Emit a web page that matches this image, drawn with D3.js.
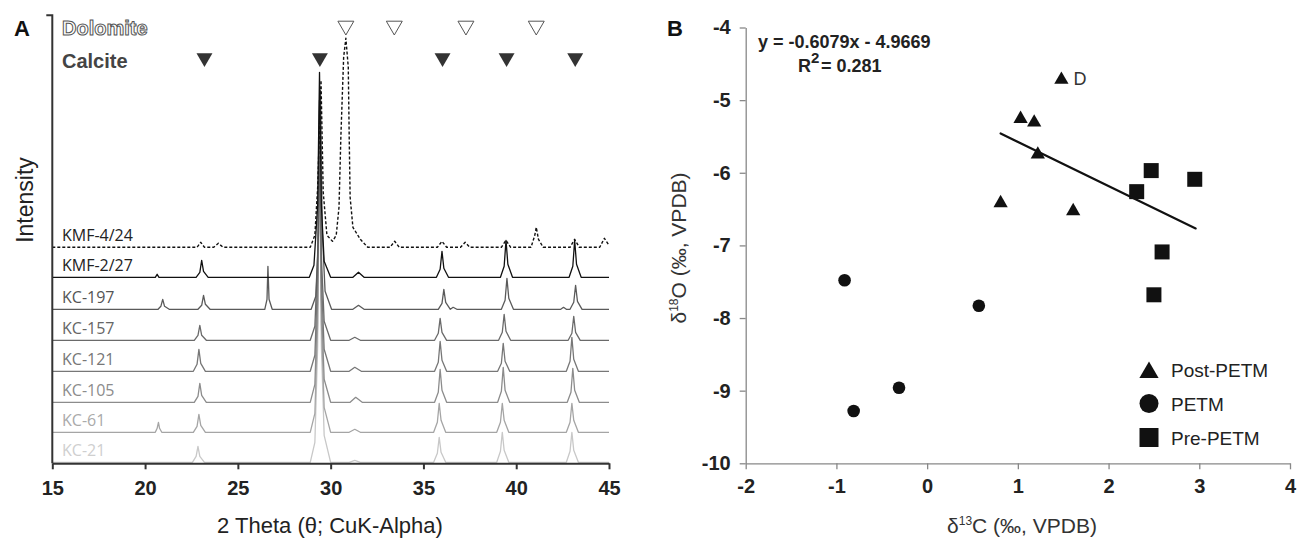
<!DOCTYPE html>
<html>
<head>
<meta charset="utf-8">
<script src="https://cdn.jsdelivr.net/npm/d3@7"></script>
<style>
  body { margin: 0; background: #fff; }
  svg { display: block; }
  text { font-family: "Liberation Sans", Arial, sans-serif; }
</style>
</head>
<body>
<svg id="fig" width="1299" height="538"></svg>
<script>
// ---- panel A : XRD traces (2theta, counts above own baseline) ----
const sampleNames = ["KC-21", "KC-61", "KC-105", "KC-121", "KC-157", "KC-197", "KMF-2/27", "KMF-4/24"];
const sampleOffsets = [1, 31, 61, 92, 123, 154, 186, 216];
const sampleColors = ["#c8c8c8", "#a5a5a5", "#8c8c8c", "#777", "#6a6a6a", "#5a5a5a", "#111", "#111"];
const labelColors = ["#cfcfcf", "#aaa", "#8c8c8c", "#777", "#666", "#555", "#222", "#222"];

const kc21 = [[15,0],[22.55,0],[22.75,6],[22.85,16],[22.95,6],[23.2,0],
  [28.9,0],[29.15,20],[29.3,116],[29.4,332],[29.5,116],[29.65,27],[30.0,0],
  [31.0,0],[31.3,2],[31.6,0],
  [35.55,0],[35.75,9],[35.85,25],[35.95,10],[36.2,0],
  [38.95,0],[39.15,11],[39.25,30],[39.35,12],[39.6,0],
  [42.7,0],[42.9,11],[43.0,30],[43.1,12],[43.35,0],[45,0]];
const kc61 = [[15,0],[20.55,0],[20.65,4],[20.72,10],[20.78,4],[20.9,0],
  [22.6,0],[22.8,6],[22.9,18],[23.0,7],[23.25,0],
  [28.9,0],[29.15,19],[29.3,109],[29.4,312],[29.5,109],[29.65,25],[30.0,0],
  [31.0,0],[31.3,3],[31.6,0],
  [35.55,0],[35.75,10],[35.85,29],[35.95,12],[36.2,0],
  [38.95,0],[39.15,10],[39.25,29],[39.35,12],[39.6,0],
  [42.7,0],[42.9,10],[43.0,29],[43.1,12],[43.35,0],[45,0]];
const kc105 = [[15,0],[22.65,0],[22.85,6],[22.95,19],[23.05,7],[23.3,0],
  [28.9,0],[29.15,18],[29.3,102],[29.4,292],[29.5,102],[29.65,23],[30.0,0],
  [31.05,0],[31.35,5],[31.7,0],
  [35.6,0],[35.8,10],[35.9,33],[36.0,12],[36.25,0],
  [39.0,0],[39.2,11],[39.3,35],[39.4,12],[39.65,0],
  [42.75,0],[42.95,10],[43.05,34],[43.15,12],[43.4,0],[45,0]];
const kc121 = [[15,0],[22.6,0],[22.8,7],[22.9,22],[23.0,8],[23.25,0],
  [28.9,0],[29.15,16],[29.3,95],[29.4,271],[29.5,95],[29.65,22],[30.0,0],
  [31.0,0],[31.3,4],[31.65,0],
  [35.6,0],[35.8,9],[35.9,30],[36.0,11],[36.25,0],
  [39.0,0],[39.2,8],[39.3,28],[39.4,10],[39.65,0],
  [42.7,0],[42.9,10],[43.0,34],[43.1,12],[43.35,0],[45,0]];
const kc157 = [[15,0],[22.65,0],[22.85,5],[22.95,15],[23.05,5],[23.3,0],
  [28.9,0],[29.15,14],[29.3,84],[29.4,240],[29.5,84],[29.65,19],[30.0,0],
  [31.0,0],[31.3,3],[31.6,0],
  [35.6,0],[35.8,7],[35.9,22],[36.0,8],[36.25,0],
  [39.05,0],[39.25,8],[39.35,26],[39.45,9],[39.7,0],
  [42.8,0],[43.0,7],[43.1,24],[43.2,8],[43.45,0],[45,0]];
const kc197 = [[15,0],[20.7,0],[20.85,3],[20.95,10],[21.05,3],[21.3,0],
  [22.85,0],[23.05,4],[23.15,14],[23.25,5],[23.5,0],
  [26.45,0],[26.57,10],[26.62,43],[26.68,10],[26.85,0],
  [28.95,0],[29.2,13],[29.35,77],[29.45,219],[29.55,77],[29.7,18],[30.05,0],
  [31.2,0],[31.5,4],[31.8,0],
  [35.8,0],[36.0,6],[36.1,20],[36.2,7],[36.45,0],[36.6,2],[36.8,0],
  [39.2,0],[39.4,9],[39.5,31],[39.6,11],[39.85,0],
  [42.4,0],[42.55,2],[42.7,0],
  [42.9,0],[43.1,7],[43.2,24],[43.3,8],[43.55,0],[45,0]];
const kmf227 = [[15,0],[20.55,0],[20.65,3],[20.75,0],
  [22.75,0],[22.95,5],[23.05,17],[23.15,6],[23.4,0],
  [28.85,0],[29.1,12],[29.3,72],[29.4,205],[29.5,72],[29.65,16],[30.0,0],
  [31.2,0],[31.5,5],[31.8,0],
  [35.7,0],[35.9,8],[36.0,26],[36.1,9],[36.35,0],
  [39.15,0],[39.35,11],[39.45,37],[39.55,13],[39.8,0],
  [42.85,0],[43.05,11],[43.15,37],[43.25,13],[43.5,0],[45,0]];
const kmf424 = [[15,0],[22.8,0],[23.0,5],[23.2,0],[23.7,0],[23.95,4],[24.2,0],
  [28.9,0],[29.15,12],[29.3,60],[29.48,167],[29.6,55],[29.8,12],[30.1,6],
  [30.3,12],[30.45,40],[30.55,110],[30.7,190],[30.82,209],[30.95,180],[31.0,110],[31.05,50],[31.2,20],[31.6,8],[32.0,0],
  [33.2,0],[33.45,6],[33.7,0],
  [35.75,0],[36.0,6],[36.25,0],
  [37.0,0],[37.25,5],[37.5,0],
  [39.2,0],[39.45,7],[39.7,0],
  [40.8,0],[41.0,12],[41.08,20],[41.2,8],[41.45,0],
  [42.9,0],[43.15,8],[43.4,0],
  [44.5,0],[44.75,9],[45,2]];
const traces = [kc21, kc61, kc105, kc121, kc157, kc197, kmf227, kmf424];

const calcitePeaks = [23.2, 29.42, 36.03, 39.48, 43.18];
const dolomitePeaks = [30.82, 33.43, 37.29, 41.08];
const thetaTicks = [15, 20, 25, 30, 35, 40, 45];

// ---- panel B : stable isotopes ----
const postPetm = [[1.48, -4.69], [1.03, -5.23], [1.18, -5.28], [1.22, -5.72], [0.81, -6.39], [1.61, -6.50]];
const petm = [[-0.91, -7.48], [-0.81, -9.28], [-0.31, -8.96], [0.57, -7.83]];
const prePetm = [[2.47, -5.97], [2.95, -6.09], [2.31, -6.26], [2.59, -7.09], [2.50, -7.68]];
const fitSlope = -0.6079, fitIntercept = -4.9669, fitRange = [0.81, 2.96];
const c13Ticks = [-2, -1, 0, 1, 2, 3, 4];
const o18Ticks = [-10, -9, -8, -7, -6, -5, -4];
const legendItems = ["Post-PETM", "PETM", "Pre-PETM"];

const svg = d3.select("#fig");
const plain = d => String(d);

// ================= A =================
const xA = d3.scaleLinear().domain([15, 45]).range([52.3, 609]);
const yA = d3.scaleLinear().domain([0, 450]).range([463.3, 13.3]);

const gA = svg.append("g");

const traceLine = off => d3.line()
    .x(d => xA(d[0]))
    .y(d => yA(d[1] + off));

gA.selectAll("path.trace")
    .data(traces)
    .join("path")
    .attr("class", "trace")
    .attr("d", (d, i) => traceLine(sampleOffsets[i])(d))
    .attr("fill", "none")
    .attr("stroke", (d, i) => sampleColors[i])
    .attr("stroke-width", (d, i) => i === 7 ? 1.4 : 1.3)
    .attr("stroke-dasharray", (d, i) => i === 7 ? "3,2" : null)
    .attr("stroke-linejoin", "round");

gA.selectAll("text.sample")
    .data(sampleNames)
    .join("text")
    .attr("class", "sample")
    .attr("x", 62)
    .attr("y", (d, i) => yA(sampleOffsets[i]) - 6)
    .attr("fill", (d, i) => labelColors[i])
    .style("font-family", "'Open Sans', sans-serif")
    .style("font-size", "16px")
    .text(d => d);

// x axis
const axA = gA.append("g")
    .attr("transform", `translate(0,${yA(0)})`)
    .call(d3.axisBottom(xA).tickValues(thetaTicks).tickFormat(plain).tickSize(6).tickSizeOuter(0).tickPadding(12));
axA.select(".domain").attr("stroke", "#333").attr("stroke-width", 2);
axA.selectAll(".tick line").attr("stroke", "#333").attr("stroke-width", 2);
axA.selectAll(".tick text")
    .attr("fill", "#222")
    .style("font-family", "'Liberation Sans', Arial, sans-serif")
    .style("font-size", "20px")
    .style("font-weight", "bold");

// y axis (no ticks, bracket at top)
gA.append("path")
    .attr("d", `M${xA(15) - 6},${yA(448)}H${xA(15)}V${yA(0)}`)
    .attr("fill", "none")
    .attr("stroke", "#333")
    .attr("stroke-width", 2);

const triDown = d3.symbol().type(d3.symbolTriangle).size(110);
gA.selectAll("path.calc")
    .data(calcitePeaks)
    .join("path")
    .attr("class", "calc")
    .attr("d", triDown)
    .attr("transform", d => `translate(${xA(d)},57.8) rotate(180)`)
    .attr("fill", "#333");
gA.selectAll("path.dolo")
    .data(dolomitePeaks)
    .join("path")
    .attr("class", "dolo")
    .attr("d", triDown)
    .attr("transform", d => `translate(${xA(d)},25.8) rotate(180)`)
    .attr("fill", "#fff")
    .attr("stroke", "#555")
    .attr("stroke-width", 1);

gA.append("text").attr("x", 62).attr("y", 34.5)
    .style("font-size", "20px").style("font-weight", "bold")
    .attr("fill", "#fff").attr("stroke", "#555").attr("stroke-width", 1)
    .text("Dolomite");
gA.append("text").attr("x", 62).attr("y", 67.5)
    .style("font-size", "20px").style("font-weight", "bold")
    .attr("fill", "#444")
    .text("Calcite");
gA.append("text").attr("x", 14).attr("y", 36)
    .style("font-size", "22px").style("font-weight", "bold")
    .attr("fill", "#111")
    .text("A");

gA.append("text")
    .attr("transform", "translate(33,200) rotate(-90)")
    .attr("text-anchor", "middle")
    .style("font-size", "23px")
    .attr("fill", "#222")
    .text("Intensity");
gA.append("text")
    .attr("x", 330).attr("y", 533)
    .attr("text-anchor", "middle")
    .style("font-size", "22px")
    .attr("fill", "#222")
    .text("2 Theta (\u03b8; CuK-Alpha)");

// ================= B =================
const xB = d3.scaleLinear().domain([-2, 4]).range([745.7, 1290]);
const yB = d3.scaleLinear().domain([-10, -4]).range([463.3, 27.5]);
const gB = svg.append("g");

const axBx = gB.append("g")
    .attr("transform", `translate(0,${yB(-10)})`)
    .call(d3.axisBottom(xB).tickValues(c13Ticks).tickFormat(plain).tickSize(6).tickSizeOuter(0).tickPadding(10));
const axBy = gB.append("g")
    .attr("transform", `translate(${xB(-2)},0)`)
    .call(d3.axisLeft(yB).tickValues(o18Ticks).tickFormat(plain).tickSize(6).tickSizeOuter(0).tickPadding(9));
[axBx, axBy].forEach(ax => {
    ax.select(".domain").attr("stroke", "#888").attr("stroke-width", 1.3);
    ax.selectAll(".tick line").attr("stroke", "#888").attr("stroke-width", 1.3);
    ax.selectAll(".tick text")
        .attr("fill", "#222")
        .style("font-family", "'Liberation Sans', Arial, sans-serif")
        .style("font-size", "20px")
        .style("font-weight", "bold");
});

// regression line
gB.append("line")
    .attr("x1", xB(fitRange[0])).attr("y1", yB(fitSlope * fitRange[0] + fitIntercept))
    .attr("x2", xB(fitRange[1])).attr("y2", yB(fitSlope * fitRange[1] + fitIntercept))
    .attr("stroke", "#111").attr("stroke-width", 2.2).attr("stroke-linecap", "round");

const tri = d3.symbol().type(d3.symbolTriangle).size(88);
const sq = d3.symbol().type(d3.symbolSquare).size(225);
gB.selectAll("path.post")
    .data(postPetm)
    .join("path")
    .attr("class", "post")
    .attr("d", tri)
    .attr("transform", d => `translate(${xB(d[0])},${yB(d[1]) + 2})`)
    .attr("fill", "#111");
gB.selectAll("path.pre")
    .data(prePetm)
    .join("path")
    .attr("class", "pre")
    .attr("d", sq)
    .attr("transform", d => `translate(${xB(d[0])},${yB(d[1])})`)
    .attr("fill", "#111");
gB.selectAll("circle.petm")
    .data(petm)
    .join("circle")
    .attr("class", "petm")
    .attr("cx", d => xB(d[0]))
    .attr("cy", d => yB(d[1]))
    .attr("r", 6.3)
    .attr("fill", "#111");

gB.append("text")
    .attr("x", xB(postPetm[0][0]) + 12).attr("y", yB(postPetm[0][1]) + 7)
    .style("font-size", "18px").attr("fill", "#333")
    .text("D");

// equation
gB.append("text").attr("x", 758).attr("y", 47.5)
    .style("font-size", "18px").style("font-weight", "bold").attr("fill", "#222")
    .text("y = -0.6079x - 4.9669");
gB.append("text").attr("x", 798).attr("y", 71.5)
    .style("font-size", "18px").style("font-weight", "bold").attr("fill", "#222")
    .text("R");
gB.append("text").attr("x", 811).attr("y", 63)
    .style("font-size", "15px").style("font-weight", "bold").attr("fill", "#222")
    .text("2");
gB.append("text").attr("x", 821).attr("y", 71.5)
    .style("font-size", "18px").style("font-weight", "bold").attr("fill", "#222")
    .text("= 0.281");

gB.append("text").attr("x", 667).attr("y", 36)
    .style("font-size", "22px").style("font-weight", "bold").attr("fill", "#111")
    .text("B");

// legend
const legY = [370, 403.5, 437.5];
const lg = gB.selectAll("g.leg")
    .data(legendItems)
    .join("g")
    .attr("class", "leg")
    .attr("transform", (d, i) => `translate(1149,${legY[i]})`);
lg.each(function (d, i) {
    const g = d3.select(this);
    if (i === 0) g.append("path").attr("d", d3.symbol().type(d3.symbolTriangle).size(160)()).attr("transform", "translate(0,2.5)").attr("fill", "#111");
    if (i === 1) g.append("circle").attr("r", 9.5).attr("fill", "#111");
    if (i === 2) g.append("path").attr("d", d3.symbol().type(d3.symbolSquare).size(361)()).attr("fill", "#111");
});
lg.append("text")
    .attr("x", 22).attr("y", 7)
    .style("font-size", "19px").attr("fill", "#222")
    .text(d => d);

// axis titles
const yt = gB.append("text")
    .attr("transform", "translate(686,248) rotate(-90)")
    .attr("text-anchor", "middle")
    .style("font-size", "21px").attr("fill", "#333");
yt.append("tspan").text("\u03b4");
yt.append("tspan").attr("dy", -8).style("font-size", "12px").text("18");
yt.append("tspan").attr("dy", 8).text("O (\u2030, VPDB)");

const xt = gB.append("text")
    .attr("x", 1022).attr("y", 533)
    .attr("text-anchor", "middle")
    .style("font-size", "21px").attr("fill", "#333");
xt.append("tspan").text("\u03b4");
xt.append("tspan").attr("dy", -8).style("font-size", "12px").text("13");
xt.append("tspan").attr("dy", 8).text("C (\u2030, VPDB)");
</script>
</body>
</html>
